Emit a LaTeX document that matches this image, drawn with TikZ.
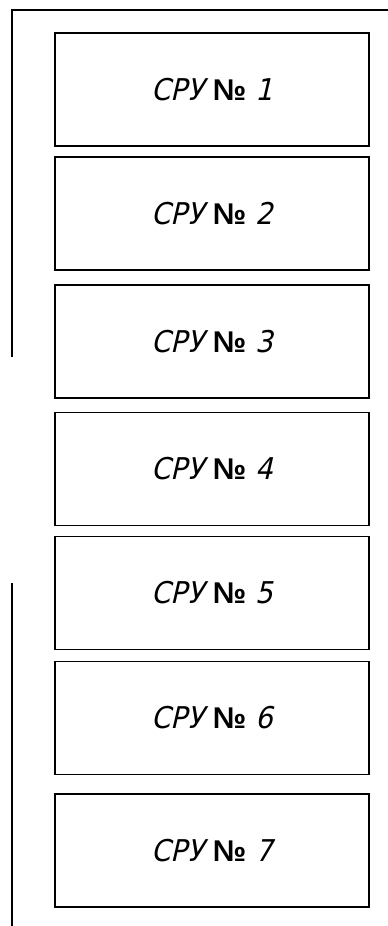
\documentclass[tikz,border=0pt]{standalone}
\usepackage{fontspec}
\setmainfont{DejaVu Sans}
\newfontfamily\slantfont[FakeSlant=0.25]{DejaVu Sans}
\newfontfamily\signfont{Liberation Sans}
\newcommand{\unitlabel}[1]{\scalebox{0.92}[1]{\slantfont СРУ}\hspace{0.3em}{\signfont\bfseries\fontsize{30}{34}\selectfont №}\hspace{0.3em}\scalebox{0.92}[1]{\slantfont #1}}
\begin{document}
\begin{tikzpicture}[x=1pt,y=-1pt,
  unitbox/.style={draw, line width=1.6pt, minimum width=314pt, minimum height=113pt, inner sep=0pt, font=\fontsize{30}{34}\selectfont},
  bracket/.style={line width=1.5pt}]
  \useasboundingbox (0,0) rectangle (388,926);
  % the seven units
  \node[unitbox] (u1) at (212,89.5)  {\unitlabel{1}};
  \node[unitbox] (u2) at (212,213.5) {\unitlabel{2}};
  \node[unitbox] (u3) at (212,341.5) {\unitlabel{3}};
  \node[unitbox] (u4) at (212,469)   {\unitlabel{4}};
  \node[unitbox] (u5) at (212,593)   {\unitlabel{5}};
  \node[unitbox] (u6) at (212,718)   {\unitlabel{6}};
  \node[unitbox] (u7) at (212,850.5) {\unitlabel{7}};
  % frame lines on the left
  \coordinate (tr) at (389,10);
  \coordinate (tl) at (12,10);
  \coordinate (tb) at (12,357);
  \coordinate (bt) at (12,583);
  \coordinate (bb) at (12,927);
  \draw[bracket] (tr) -- (tl) -- (tb);
  \draw[bracket] (bt) -- (bb);
\end{tikzpicture}
\end{document}
